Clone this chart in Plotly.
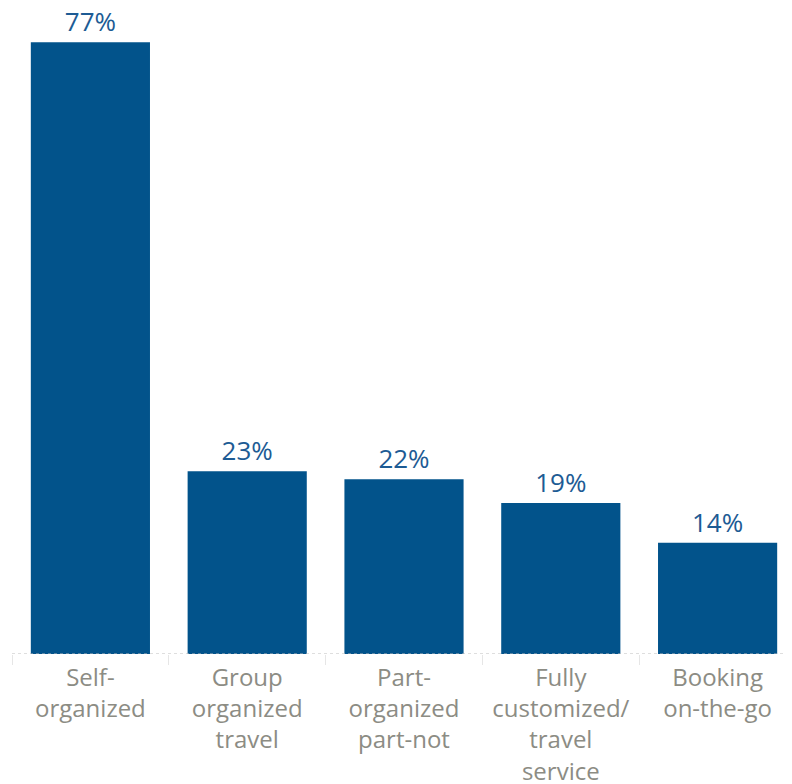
import plotly.graph_objects as go

categories = ["Self-<br>organized", "Group<br>organized<br>travel", "Part-<br>organized<br>part-not",
              "Fully<br>customized/<br>travel<br>service", "Booking<br>on-the-go"]
values = [77, 23, 22, 19, 14]
labels = [f"{v}%" for v in values]

fig = go.Figure(go.Bar(
    x=categories, y=values, text=labels, textposition="outside",
    marker=dict(color="#02538b", line=dict(width=0)),
    textfont=dict(color="#1d5b94", size=26, family="Open Sans"),
    cliponaxis=False, width=0.76,
))

fig.update_layout(
    width=792, height=784,
    margin=dict(l=4, r=4, t=0, b=138, autoexpand=False),
    plot_bgcolor="white", paper_bgcolor="white",
    showlegend=False,
    font=dict(family="Open Sans", color="#8c8c84", size=23),
    xaxis=dict(tickson="boundaries", ticks="outside", ticklen=10, tickcolor="#e6e6e6",
               tickwidth=1, showgrid=False, showline=False, automargin=False,
               ticklabelstandoff=7,
               tickfont=dict(size=24, color="#8c8c84", family="Open Sans")),
    yaxis=dict(range=[0, 81.3], visible=False, showgrid=False),
)
fig.add_shape(type="line", xref="paper", yref="y", x0=0, x1=1, y0=0, y1=0,
              line=dict(color="#bdbdbd", width=1, dash="3px,3px"))

fig.write_html("out.html")
